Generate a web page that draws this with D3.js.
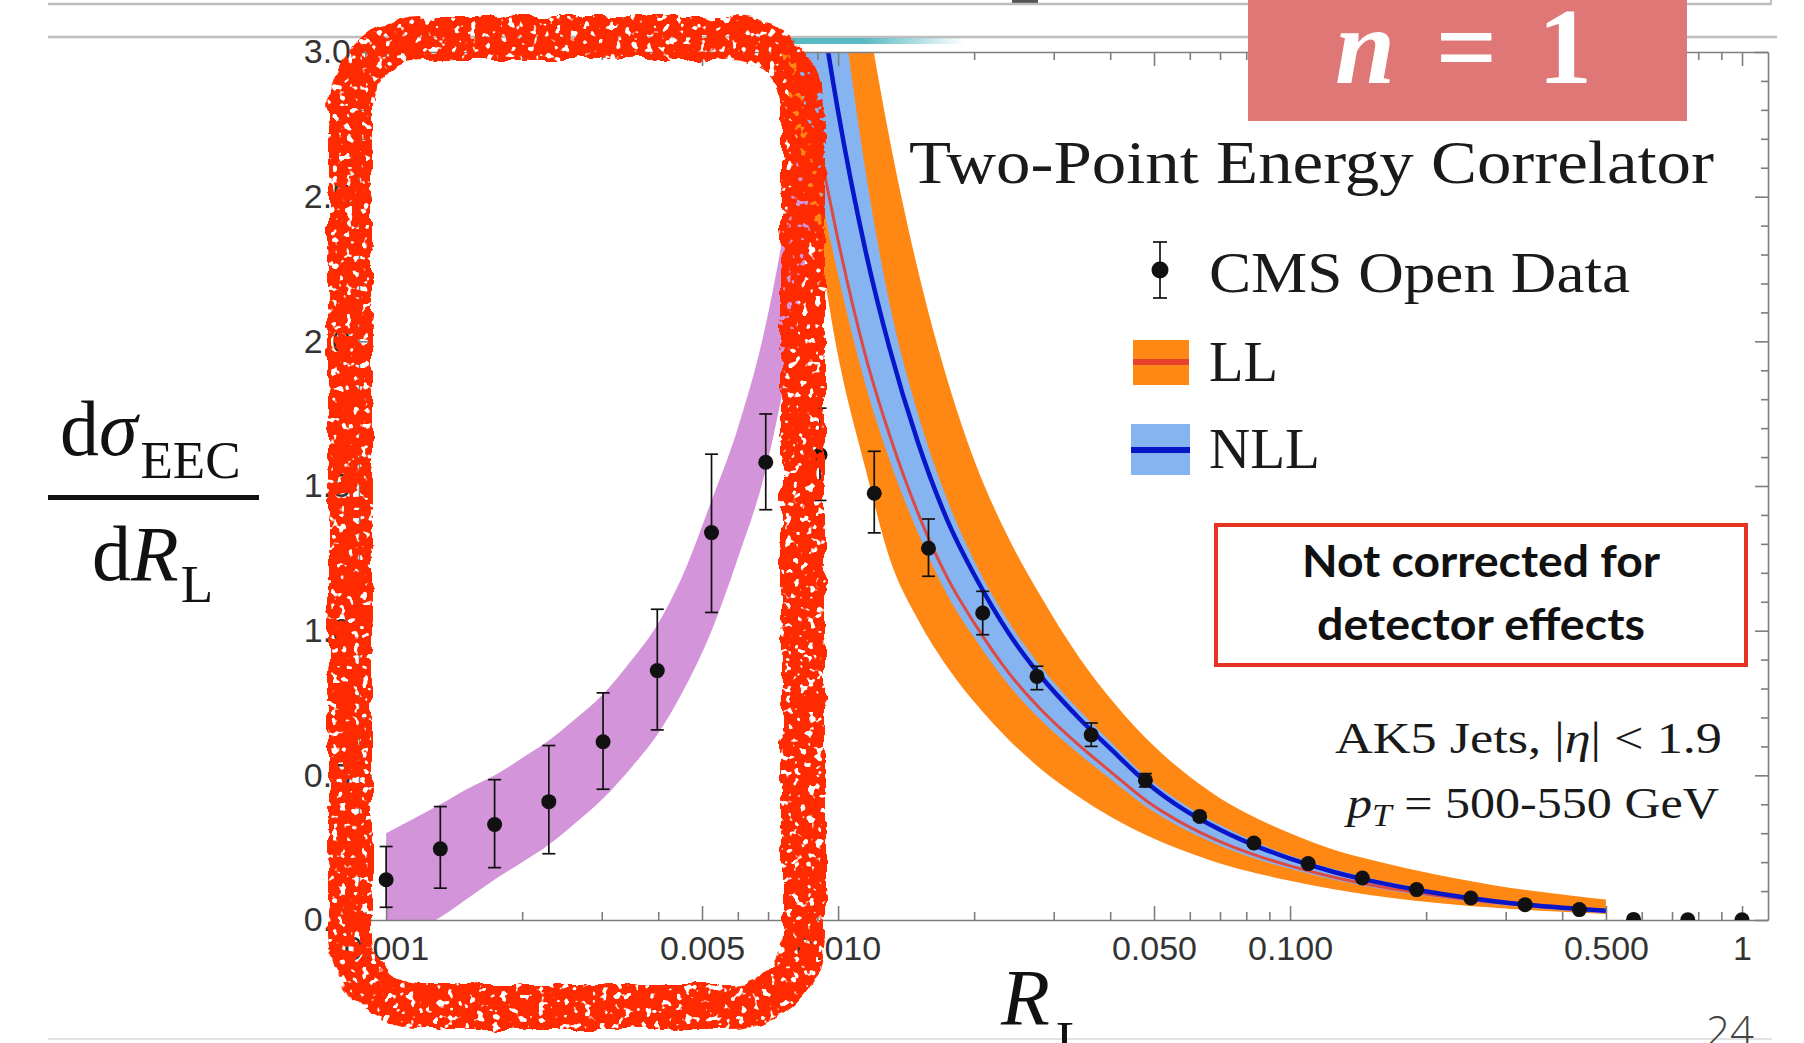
<!DOCTYPE html>
<html>
<head>
<meta charset="utf-8">
<script src="https://cdn.jsdelivr.net/npm/d3@7"></script>
<style>
  html, body { margin: 0; padding: 0; background: #ffffff; }
  svg { display: block; }
</style>
</head>
<body>
<svg id="chart" width="1804" height="1043"></svg>
<script>
// ---- measured EEC distribution (CMS Open Data, AK5 jets, pT 500-550 GeV) ----
const rlCenters = [0.001000, 0.001318, 0.001738, 0.002291, 0.003020, 0.003981, 0.005248,
  0.006918, 0.009120, 0.012023, 0.015849, 0.020893, 0.027542, 0.036308, 0.047863,
  0.063096, 0.083176, 0.109648, 0.144544, 0.190546, 0.251189, 0.331131, 0.436516,
  0.575440, 0.758578, 1.000000];
const eecValues = [0.139, 0.246, 0.330, 0.409, 0.616, 0.862, 1.339, 1.582, 1.608, 1.475,
  1.285, 1.061, 0.842, 0.640, 0.483, 0.358, 0.266, 0.195, 0.145, 0.105, 0.076, 0.053,
  0.036, 0.002, 0.001, 0.001];
const eecErrLow = [0.044, 0.110, 0.181, 0.229, 0.452, 0.657, 1.063, 1.418, 1.450, 1.338,
  1.188, 0.986, 0.796, 0.600, 0.460, 0.345, 0.256, 0.188, 0.140, 0.101, 0.073, 0.051,
  0.034, 0.002, 0.001, 0.001];
const eecErrHigh = [0.254, 0.392, 0.485, 0.603, 0.785, 1.074, 1.610, 1.749, 1.769, 1.620,
  1.386, 1.136, 0.877, 0.681, 0.506, 0.371, 0.276, 0.202, 0.150, 0.109, 0.079, 0.055,
  0.038, 0.002, 0.001, 0.001];

// ---- free-hadron (small angle) band ----
const hadronGrid = [0.00100, 0.00115, 0.00132, 0.00150, 0.00174, 0.00200, 0.00229, 0.00260,
  0.00302, 0.00350, 0.00398, 0.00450, 0.00525, 0.00600, 0.00690, 0.00780, 0.00870];
const hadronLow = [-0.10, -0.04, 0.01, 0.07, 0.14, 0.20, 0.26, 0.33, 0.42, 0.53, 0.64,
  0.78, 1.00, 1.25, 1.55, 1.95, 2.40];
const hadronHigh = [0.30, 0.35, 0.40, 0.45, 0.50, 0.56, 0.62, 0.69, 0.78, 0.90, 1.02,
  1.18, 1.45, 1.70, 2.05, 2.50, 3.05];

// ---- perturbative predictions (LL and NLL, central value + scale band) ----
const pertGrid = [0.0060, 0.0070, 0.0080, 0.0085, 0.0090, 0.0100, 0.0115, 0.0130, 0.0150,
  0.0175, 0.0200, 0.0240, 0.0280, 0.0340, 0.0400, 0.0480, 0.0580, 0.0700, 0.0850, 0.1000,
  0.1250, 0.1500, 0.1850, 0.2300, 0.2800, 0.3500, 0.4300, 0.5000];
const llCentral = [4.77, 3.84, 3.19, 2.93, 2.71, 2.35, 1.95, 1.676, 1.409, 1.179, 1.027,
  0.849, 0.730, 0.606, 0.514, 0.413, 0.333, 0.271, 0.221, 0.187, 0.148, 0.122, 0.098,
  0.077, 0.061, 0.047, 0.037, 0.0315];
const llLow = [3.90, 3.25, 2.75, 2.55, 2.36, 1.95, 1.56, 1.25, 1.04, 0.871, 0.754,
  0.619, 0.524, 0.427, 0.358, 0.294, 0.240, 0.195, 0.160, 0.136, 0.106, 0.086, 0.068,
  0.054, 0.043, 0.033, 0.026, 0.021];
const llHigh = [7.39, 6.05, 5.08, 4.70, 4.36, 3.80, 3.17, 2.70, 2.25, 1.86, 1.59, 1.311,
  1.122, 0.912, 0.766, 0.628, 0.513, 0.421, 0.349, 0.300, 0.243, 0.209, 0.175, 0.145,
  0.121, 0.099, 0.082, 0.071];
const nllCentral = [5.71, 4.60, 3.82, 3.51, 3.24, 2.795, 2.313, 1.976, 1.654, 1.377, 1.194,
  0.985, 0.845, 0.700, 0.593, 0.477, 0.383, 0.312, 0.253, 0.212, 0.166, 0.136, 0.108,
  0.0835, 0.066, 0.050, 0.039, 0.032];
const nllLow = [4.53, 3.65, 3.03, 2.78, 2.57, 2.23, 1.85, 1.59, 1.34, 1.12, 0.976, 0.807,
  0.694, 0.576, 0.488, 0.392, 0.316, 0.257, 0.209, 0.177, 0.139, 0.114, 0.091, 0.071,
  0.055, 0.041, 0.030, 0.0235];
const nllHigh = [6.85, 5.52, 4.58, 4.21, 3.86, 3.27, 2.59, 2.13, 1.753, 1.446, 1.242, 1.024,
  0.879, 0.728, 0.617, 0.496, 0.402, 0.328, 0.266, 0.223, 0.176, 0.144, 0.116, 0.090,
  0.072, 0.055, 0.044, 0.037];

// ---- axis ticks ----
const xTickValues = [0.001, 0.005, 0.01, 0.05, 0.1, 0.5, 1];
const xTickLabels = ["0.001", "0.005", "0.010", "0.050", "0.100", "0.500", "1"];
const yTickValues = [0, 0.5, 1.0, 1.5, 2.0, 2.5, 3.0];
const yTickLabels = ["0.0", "0.5", "1.0", "1.5", "2.0", "2.5", "3.0"];

// ---- colours ----
const C = {
  hadron: "#d394da",
  llBand: "#ff8714",
  llLine: "#dc4a46",
  nllBand: "#86b4f1",
  nllLine: "#0716c8",
  data: "#111111",
  frame: "#7d7d7d",
  tickText: "#333333",
  marker: "#ff2a00",
  badge: "#e07777",
  note: "#e5341f"
};

const svg = d3.select("#chart");
const plot = { left: 359, right: 1768, top: 52, bottom: 920 };

const x = d3.scaleLog().domain([0.000871, 1.1415]).range([plot.left, plot.right]);
const y = d3.scaleLinear().domain([0, 3]).range([plot.bottom, plot.top]);

const defs = svg.append("defs");
defs.append("clipPath").attr("id", "plot-clip")
  .append("rect")
  .attr("x", plot.left).attr("y", plot.top)
  .attr("width", plot.right - plot.left).attr("height", plot.bottom - plot.top);

// felt-pen texture for the hand-drawn highlight: wobbly edges, a few dry spots
const rough = defs.append("filter").attr("id", "felt-pen")
  .attr("x", "-10%").attr("y", "-10%").attr("width", "120%").attr("height", "120%");
rough.append("feTurbulence").attr("type", "fractalNoise").attr("baseFrequency", 0.045)
  .attr("numOctaves", 3).attr("seed", 4).attr("result", "warp");
rough.append("feDisplacementMap").attr("in", "SourceGraphic").attr("in2", "warp")
  .attr("scale", 11).attr("xChannelSelector", "R").attr("yChannelSelector", "G")
  .attr("result", "shaken");
rough.append("feTurbulence").attr("type", "fractalNoise").attr("baseFrequency", 0.13)
  .attr("numOctaves", 2).attr("seed", 17).attr("result", "grain");
rough.append("feColorMatrix").attr("in", "grain").attr("type", "matrix")
  .attr("values", "0 0 0 0 0  0 0 0 0 0  0 0 0 0 0  -16 0 0 0 10.8").attr("result", "holes");
rough.append("feComposite").attr("in", "shaken").attr("in2", "holes").attr("operator", "in");

// teal fade under the slide header rule
const teal = defs.append("linearGradient").attr("id", "teal-fade")
  .attr("x1", "0").attr("x2", "1").attr("y1", "0").attr("y2", "0");
teal.append("stop").attr("offset", "0").attr("stop-color", "#57b9c2");
teal.append("stop").attr("offset", "0.45").attr("stop-color", "#57b9c2");
teal.append("stop").attr("offset", "1").attr("stop-color", "#57b9c2").attr("stop-opacity", 0);

// ---- slide header rules ----
svg.append("rect").attr("x", 1012).attr("y", 0).attr("width", 26).attr("height", 3).attr("fill", "#555");
svg.append("line").attr("x1", 48).attr("x2", 1771).attr("y1", 4).attr("y2", 4)
  .attr("stroke", "#bdbdbd").attr("stroke-width", 2.5);
svg.append("line").attr("x1", 1771).attr("x2", 1771).attr("y1", 0).attr("y2", 5)
  .attr("stroke", "#bdbdbd").attr("stroke-width", 2);
svg.append("line").attr("x1", 48).attr("x2", 1777).attr("y1", 37).attr("y2", 37)
  .attr("stroke", "#bdbdbd").attr("stroke-width", 2.5);
svg.append("rect").attr("x", 780).attr("y", 38).attr("width", 185).attr("height", 6)
  .attr("fill", "url(#teal-fade)");
svg.append("line").attr("x1", 48).attr("x2", 1772).attr("y1", 1039).attr("y2", 1039)
  .attr("stroke", "#e2e2e2").attr("stroke-width", 2);

// ---- bands and curves ----
const gPlot = svg.append("g").attr("clip-path", "url(#plot-clip)");

function bandRows(grid, lo, hi) { return grid.map((g, i) => ({ x: g, lo: lo[i], hi: hi[i] })); }
function lineRows(grid, v) { return grid.map((g, i) => ({ x: g, v: v[i] })); }

const area = d3.area().curve(d3.curveMonotoneX)
  .x(d => x(d.x)).y0(d => y(d.lo)).y1(d => y(d.hi));
const line = d3.line().curve(d3.curveMonotoneX)
  .x(d => x(d.x)).y(d => y(d.v));

gPlot.append("path").datum(bandRows(hadronGrid, hadronLow, hadronHigh))
  .attr("d", area).attr("fill", C.hadron);
gPlot.append("path").datum(bandRows(pertGrid, llLow, llHigh))
  .attr("d", area).attr("fill", C.llBand);
gPlot.append("path").datum(bandRows(pertGrid, nllLow, nllHigh))
  .attr("d", area).attr("fill", C.nllBand);
gPlot.append("path").datum(lineRows(pertGrid, llCentral))
  .attr("d", line).attr("fill", "none").attr("stroke", C.llLine).attr("stroke-width", 3);
gPlot.append("path").datum(lineRows(pertGrid, nllCentral))
  .attr("d", line).attr("fill", "none").attr("stroke", C.nllLine).attr("stroke-width", 4.5);

// ---- frame with inward ticks ----
const minorX = x.ticks().filter(t => !xTickValues.some(m => Math.abs(m - t) / t < 1e-6));
const minorY = d3.range(0, 31).map(k => k / 10).filter(v => Math.round(v * 10) % 5 !== 0);

function styleAxis(g) {
  g.selectAll("path, line").attr("stroke", C.frame).attr("stroke-width", 1.6);
  g.selectAll("text").attr("font-family", "'Liberation Sans', Arial, sans-serif")
    .attr("font-size", 34).attr("fill", C.tickText);
}
// tick-only axes carry no labels at all
function bare(g) { g.selectAll("text").remove(); }
function bareMinor(g) { g.select(".domain").remove(); g.selectAll("text").remove(); }

const gAxes = svg.append("g");
gAxes.append("g").attr("transform", `translate(0,${plot.bottom})`)
  .call(d3.axisBottom(x).tickValues(xTickValues).tickFormat((d, i) => xTickLabels[i])
    .tickSizeInner(-14).tickSizeOuter(0).tickPadding(16))
  .call(styleAxis);
gAxes.append("g").attr("transform", `translate(0,${plot.bottom})`)
  .call(d3.axisBottom(x).tickValues(minorX).tickSizeInner(-8).tickSizeOuter(0))
  .call(bareMinor).call(styleAxis);
gAxes.append("g").attr("transform", `translate(0,${plot.top})`)
  .call(d3.axisTop(x).tickValues(xTickValues).tickSizeInner(-14).tickSizeOuter(0))
  .call(bare).call(styleAxis);
gAxes.append("g").attr("transform", `translate(0,${plot.top})`)
  .call(d3.axisTop(x).tickValues(minorX).tickSizeInner(-8).tickSizeOuter(0))
  .call(bareMinor).call(styleAxis);
gAxes.append("g").attr("transform", `translate(${plot.left},0)`)
  .call(d3.axisLeft(y).tickValues(yTickValues).tickFormat((d, i) => yTickLabels[i])
    .tickSizeInner(-13).tickSizeOuter(0).tickPadding(8))
  .call(styleAxis);
gAxes.append("g").attr("transform", `translate(${plot.left},0)`)
  .call(d3.axisLeft(y).tickValues(minorY).tickSizeInner(-7).tickSizeOuter(0))
  .call(bareMinor).call(styleAxis);
gAxes.append("g").attr("transform", `translate(${plot.right},0)`)
  .call(d3.axisRight(y).tickValues(yTickValues).tickSizeInner(-13).tickSizeOuter(0))
  .call(bare).call(styleAxis);
gAxes.append("g").attr("transform", `translate(${plot.right},0)`)
  .call(d3.axisRight(y).tickValues(minorY).tickSizeInner(-7).tickSizeOuter(0))
  .call(bareMinor).call(styleAxis);

// ---- data points with error bars ----
const points = rlCenters.map((r, i) => ({ r, v: eecValues[i], lo: eecErrLow[i], hi: eecErrHigh[i] }));
const gData = svg.append("g").attr("clip-path", "url(#plot-clip)");
const capHalf = 6.5;
const pt = gData.selectAll("g.pt").data(points).join("g").attr("class", "pt");
pt.filter(d => d.hi - d.lo > 0.005).each(function (d) {
  const g = d3.select(this);
  const cx = x(d.r);
  g.append("line").attr("x1", cx).attr("x2", cx).attr("y1", y(d.lo)).attr("y2", y(d.hi))
    .attr("stroke", C.data).attr("stroke-width", 1.7);
  g.append("line").attr("x1", cx - capHalf).attr("x2", cx + capHalf).attr("y1", y(d.hi)).attr("y2", y(d.hi))
    .attr("stroke", C.data).attr("stroke-width", 1.7);
  g.append("line").attr("x1", cx - capHalf).attr("x2", cx + capHalf).attr("y1", y(d.lo)).attr("y2", y(d.lo))
    .attr("stroke", C.data).attr("stroke-width", 1.7);
});
pt.append("circle").attr("cx", d => x(d.r)).attr("cy", d => y(d.v)).attr("r", 7.5).attr("fill", C.data);

// ---- in-plot text ----
const serif = "'Liberation Serif', 'Times New Roman', serif";
svg.append("text").attr("x", 909).attr("y", 183).attr("font-family", serif).attr("font-size", 62)
  .attr("fill", "#1a1a1a").attr("textLength", 805).attr("lengthAdjust", "spacingAndGlyphs")
  .text("Two-Point Energy Correlator");

// legend
const leg = svg.append("g");
leg.append("line").attr("x1", 1160).attr("x2", 1160).attr("y1", 242).attr("y2", 298)
  .attr("stroke", C.data).attr("stroke-width", 1.7);
leg.append("line").attr("x1", 1153).attr("x2", 1167).attr("y1", 242).attr("y2", 242)
  .attr("stroke", C.data).attr("stroke-width", 1.7);
leg.append("line").attr("x1", 1153).attr("x2", 1167).attr("y1", 298).attr("y2", 298)
  .attr("stroke", C.data).attr("stroke-width", 1.7);
leg.append("circle").attr("cx", 1160).attr("cy", 270).attr("r", 8.5).attr("fill", C.data);
leg.append("rect").attr("x", 1133).attr("y", 340).attr("width", 56).attr("height", 45).attr("fill", C.llBand);
leg.append("line").attr("x1", 1133).attr("x2", 1189).attr("y1", 362).attr("y2", 362)
  .attr("stroke", "#e8402c").attr("stroke-width", 6);
leg.append("rect").attr("x", 1131).attr("y", 424).attr("width", 59).attr("height", 51).attr("fill", C.nllBand);
leg.append("line").attr("x1", 1131).attr("x2", 1190).attr("y1", 450).attr("y2", 450)
  .attr("stroke", C.nllLine).attr("stroke-width", 6);
[["CMS Open Data", 292, 421], ["LL", 381, 69], ["NLL", 468, 111]].forEach(([t, yy, len]) => {
  leg.append("text").attr("x", 1209).attr("y", yy).attr("font-family", serif).attr("font-size", 58)
    .attr("fill", "#1a1a1a").attr("textLength", len).attr("lengthAdjust", "spacingAndGlyphs").text(t);
});

// detector note box
svg.append("rect").attr("x", 1216).attr("y", 525).attr("width", 530).attr("height", 140)
  .attr("fill", "#ffffff").attr("stroke", C.note).attr("stroke-width", 4);
[["Not corrected for", 577, 358], ["detector effects", 640, 328]].forEach(([t, yy, len]) => {
  svg.append("text").attr("x", 1481).attr("y", yy).attr("text-anchor", "middle")
    .attr("font-family", "Lato, 'Open Sans', sans-serif").attr("font-weight", 700).attr("font-size", 44)
    .attr("fill", "#111").attr("textLength", len).attr("lengthAdjust", "spacingAndGlyphs").text(t);
});

// jet selection
const ak5 = svg.append("text").attr("x", 1335).attr("y", 753).attr("font-family", serif)
  .attr("font-size", 44).attr("fill", "#1a1a1a");
ak5.append("tspan").text("AK5 Jets, |");
ak5.append("tspan").attr("font-style", "italic").text("η");
ak5.append("tspan").text("| < 1.9");
ak5.attr("textLength", 387).attr("lengthAdjust", "spacingAndGlyphs");

const ptLabel = svg.append("text").attr("x", 1347).attr("y", 818).attr("font-family", serif)
  .attr("font-size", 44).attr("fill", "#1a1a1a");
ptLabel.append("tspan").attr("font-style", "italic").text("p");
ptLabel.append("tspan").attr("font-style", "italic").attr("font-size", 31).attr("dy", 8).text("T");
ptLabel.append("tspan").attr("dy", -8).text(" = 500-550 GeV");
ptLabel.attr("textLength", 372).attr("lengthAdjust", "spacingAndGlyphs");

// ---- axis titles ----
const num = svg.append("text").attr("x", 60).attr("y", 455).attr("font-family", serif)
  .attr("font-size", 78).attr("fill", "#111");
num.append("tspan").text("d");
num.append("tspan").attr("font-style", "italic").text("σ");
num.append("tspan").attr("font-size", 53).attr("dy", 23).attr("dx", 3).text("EEC");
svg.append("rect").attr("x", 48).attr("y", 495).attr("width", 211).attr("height", 5).attr("fill", "#111");
const den = svg.append("text").attr("x", 92).attr("y", 580).attr("font-family", serif)
  .attr("font-size", 78).attr("fill", "#111");
den.append("tspan").text("d");
den.append("tspan").attr("font-style", "italic").text("R");
den.append("tspan").attr("font-size", 53).attr("dy", 22).attr("dx", 2).text("L");

const xt = svg.append("text").attr("x", 1001).attr("y", 1025).attr("font-family", serif)
  .attr("font-size", 80).attr("fill", "#111");
xt.append("tspan").attr("font-style", "italic").text("R");
xt.append("tspan").attr("font-size", 53).attr("dy", 33).attr("dx", 6).text("L");

// slide number
svg.append("text").attr("x", 1706).attr("y", 1046).attr("font-family", "'Open Sans', sans-serif")
  .attr("font-weight", 300).attr("font-size", 42).attr("fill", "#444").text("24");

// ---- slide badge ----
svg.append("rect").attr("x", 1248).attr("y", 0).attr("width", 439).attr("height", 121).attr("fill", C.badge);
const badge = svg.append("text").attr("x", 1335).attr("y", 83).attr("font-family", serif)
  .attr("font-weight", 700).attr("font-size", 108).attr("fill", "#ffffff");
badge.append("tspan").attr("font-style", "italic").text("n");
badge.append("tspan").text(" = 1");
badge.attr("textLength", 257).attr("lengthAdjust", "spacing");

// ---- hand-drawn highlight around the small-angle region ----
svg.append("rect").attr("x", 350).attr("y", 38).attr("width", 453).attr("height", 969)
  .attr("rx", 72).attr("ry", 72)
  .attr("fill", "none").attr("stroke", C.marker).attr("stroke-width", 44)
  .attr("filter", "url(#felt-pen)");
</script>
</body>
</html>
